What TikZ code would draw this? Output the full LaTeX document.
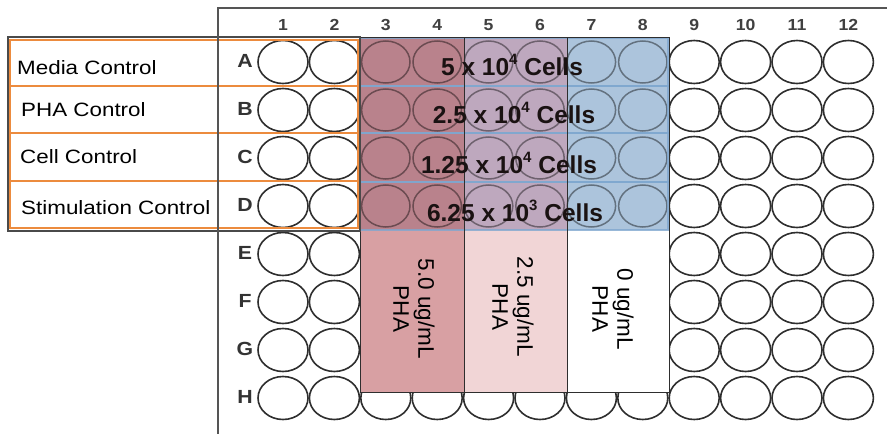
\documentclass[tikz,border=0pt]{standalone}
\usepackage{fontspec}
\setmainfont{Liberation Sans}
\usetikzlibrary{shapes.geometric}
\definecolor{orangeline}{HTML}{EC8B3E}
\definecolor{darkframe}{HTML}{4A4A4A}
\definecolor{plategray}{HTML}{555555}
\definecolor{wellline}{HTML}{2E2E2E}
\definecolor{cAtop}{HTML}{B9828C}
\definecolor{cAbot}{HTML}{D8A0A3}
\definecolor{cBtop}{HTML}{BEA8BE}
\definecolor{cBbot}{HTML}{F1D5D6}
\definecolor{cCtop}{HTML}{ACC4DC}
\definecolor{bandblue}{HTML}{7FA7CF}
\definecolor{txtdark}{HTML}{1A1212}
\tikzset{
  well/.style={ellipse, draw=wellline, fill=white, line width=1.6pt,
    minimum width=50pt, minimum height=43pt, inner sep=0pt},
  wellghost/.style={draw=black, draw opacity=0.42, line width=1.5pt},
  boxline/.style={draw=wellline, line width=1pt},
  bandline/.style={draw=bandblue, line width=1.2pt, draw opacity=0.8},
  orangebox/.style={draw=orangeline, line width=2.2pt},
  darkbox/.style={draw=darkframe, line width=1.4pt},
  plateline/.style={draw=plategray, line width=1.8pt},
  ctrltext/.style={anchor=west, inner sep=0pt, xscale=1.16,
    font=\fontsize{19.3}{22}\selectfont, text=black},
  colnum/.style={inner sep=0pt, xscale=1.1, font=\bfseries\fontsize{16}{18}\selectfont, text=black!75},
  rowlet/.style={inner sep=0pt, xscale=1.12, font=\bfseries\fontsize{19}{20}\selectfont, text=black!80},
  celltext/.style={inner sep=0pt, font=\bfseries\fontsize{24.5}{26}\selectfont, text=txtdark},
  phatext/.style={inner sep=0pt, rotate=-90, align=center,
    font=\fontsize{22.5}{25}\selectfont, text=black}
}
\newcommand{\supnum}[1]{\raisebox{0.42em}{\fontsize{15}{16}\selectfont #1}}
\begin{document}
\begin{tikzpicture}[x=1pt,y=-1pt]
\useasboundingbox (0,0) rectangle (887,434);
\fill[white] (0,0) rectangle (887,434);

% wells
\foreach \r [count=\j] in {A,B,C,D,E,F,G,H} {
  \foreach \c in {1,...,12} {
    \node[well] (w\r\c) at ({283+(\c-1)*51.4},{62+(\j-1)*48}) {};
  }
}

% treatment regions
\fill[cAtop] (360,37) rectangle (464,230);
\fill[cAbot] (360,230) rectangle (464,392);
\fill[cBtop] (464,37) rectangle (567,230);
\fill[cBbot] (464,230) rectangle (567,392);
\fill[cCtop] (567,37) rectangle (669,230);
\fill[white] (567,230) rectangle (669,392);

% wells seen through the cell band
\foreach \r in {A,B,C,D} {
  \foreach \c in {3,...,8} {
    \draw[wellghost] (w\r\c.center) ellipse [x radius=24.2pt, y radius=21pt];
  }
}

% cell band strips
\draw[bandline] (360,38) rectangle (668,86);
\draw[bandline] (360,86) rectangle (668,133);
\draw[bandline] (360,133) rectangle (668,182);
\draw[bandline] (360,182) rectangle (668,230);

% treatment column boxes
\draw[boxline] (360,37) rectangle (464,392);
\draw[boxline] (464,37) rectangle (567,392);
\draw[boxline] (567,37) rectangle (669,392);

% cell texts
\node[celltext] (cell1) at (512,65) {5 x 10\supnum{4} Cells};
\node[celltext] (cell2) at (514,113) {2.5 x 10\supnum{4} Cells};
\node[celltext] (cell3) at (509,163) {1.25 x 10\supnum{4} Cells};
\node[celltext] (cell4) at (515,211) {6.25 x 10\supnum{3} Cells};

% PHA texts
\node[phatext] (pha1) at (414,309) {5.0 ug/mL\\PHA};
\node[phatext] (pha2) at (513,307) {2.5 ug/mL\\PHA};
\node[phatext] (pha3) at (613,309) {0 ug/mL\\PHA};

% control boxes
\draw[darkbox] (8,37) rectangle (360,231);
\draw[orangebox] (10,40) rectangle (358,86);
\draw[orangebox] (10,86) rectangle (358,133);
\draw[orangebox] (10,133) rectangle (358,181);
\draw[orangebox] (10,181) rectangle (358,228);

\node[ctrltext] (ctl1) at (17,68) {Media Control};
\node[ctrltext] (ctl2) at (21,110) {PHA Control};
\node[ctrltext] (ctl3) at (20,157) {Cell Control};
\node[ctrltext] (ctl4) at (21,208) {Stimulation Control};

% plate frame
\draw[plateline] (887,8) -- (218,8) -- (218,434);

% labels
\foreach \c in {1,...,12} {
  \node[colnum] (n\c) at ({283+(\c-1)*51.4},25) {\c};
}
\foreach \r [count=\j] in {A,B,C,D,E,F,G,H} {
  \node[rowlet] (l\r) at (245,{61+(\j-1)*48}) {\r};
}
\end{tikzpicture}
\end{document}
